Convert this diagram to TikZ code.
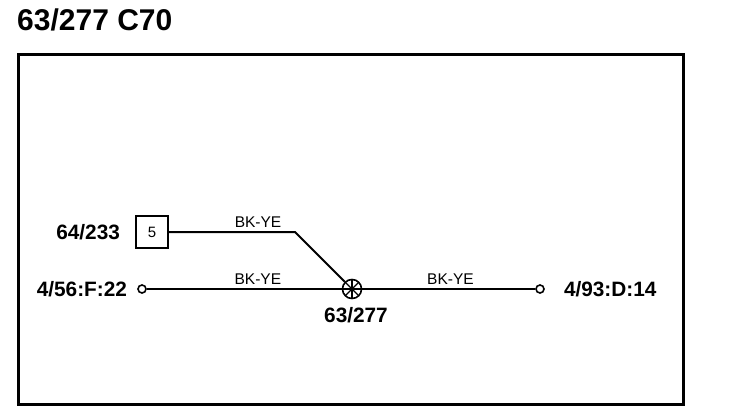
\documentclass[tikz,border=0pt]{standalone}
\usepackage{fontspec}
\setmainfont{Liberation Sans}
\usetikzlibrary{positioning}
\tikzset{%
    % Specifications for style of nodes:
    frame/.style = {draw, line width=3pt, minimum width=665pt, minimum height=350pt, inner sep=0},
    title/.style = {font=\bfseries\fontsize{30}{30}\selectfont, inner sep=0},
    pinLabel/.style = {font=\bfseries\fontsize{20.8}{21}\selectfont, inner sep=0},
    wireLabel/.style = {font=\fontsize{15.5}{16}\selectfont, inner sep=0, above=4pt},
    connector/.style = {draw, line width=1.8pt, minimum size=32pt, inner sep=0, font=\fontsize{15}{15}\selectfont},
    terminal/.style = {draw, circle, fill=white, line width=1.6pt, minimum size=8pt, inner sep=0},
    splice/.style = {draw, circle, line width=1.6pt, minimum size=19pt, inner sep=0,
        path picture={
            \draw [line width=1.3pt] (path picture bounding box.north west) -- (path picture bounding box.south east);
            \draw [line width=1.3pt] (path picture bounding box.south west) -- (path picture bounding box.north east);
            \draw [line width=1.3pt] (path picture bounding box.north) -- (path picture bounding box.south);
            \draw [line width=1.3pt] (path picture bounding box.west) -- (path picture bounding box.east);
        }},
    wire/.style = {line width=2pt},
}
\begin{document}
\begin{tikzpicture}[x=1pt, y=-1pt]
    \useasboundingbox (0,0) rectangle (736,418);
    % Specification of nodes (position, etc.)
    \node (frame) [frame] at (350.5,229) {};
    \node (heading) [title, anchor=base west] at (17,30) {63/277 C70};
    \node (plug) [connector] at (152,232) {5};
    \node (plugLabel) [pinLabel, left=15pt of plug] {64/233};
    \node (joint) [splice] at (352,289) {};
    \node (jointLabel) [pinLabel, below=8pt of joint, xshift=4pt] {63/277};
    \node (pinLeft) [terminal] at (142,289) {};
    \node (pinLeftLabel) [pinLabel, left=10pt of pinLeft] {4/56:F:22};
    \node (pinRight) [terminal] at (540,289) {};
    \node (pinRightLabel) [pinLabel, right=19pt of pinRight] {4/93:D:14};
    \coordinate (bend) at (295,232);

    \draw [wire] (plug) -- (bend) node (plugWire) [wireLabel, pos=0.707] {BK-YE} -- (joint);
    \draw [wire] (pinLeft) -- (joint) node (leftWire) [wireLabel, pos=0.57] {BK-YE};
    \draw [wire] (joint) -- (pinRight) node (rightWire) [wireLabel, pos=0.51] {BK-YE};
\end{tikzpicture}
\end{document}
